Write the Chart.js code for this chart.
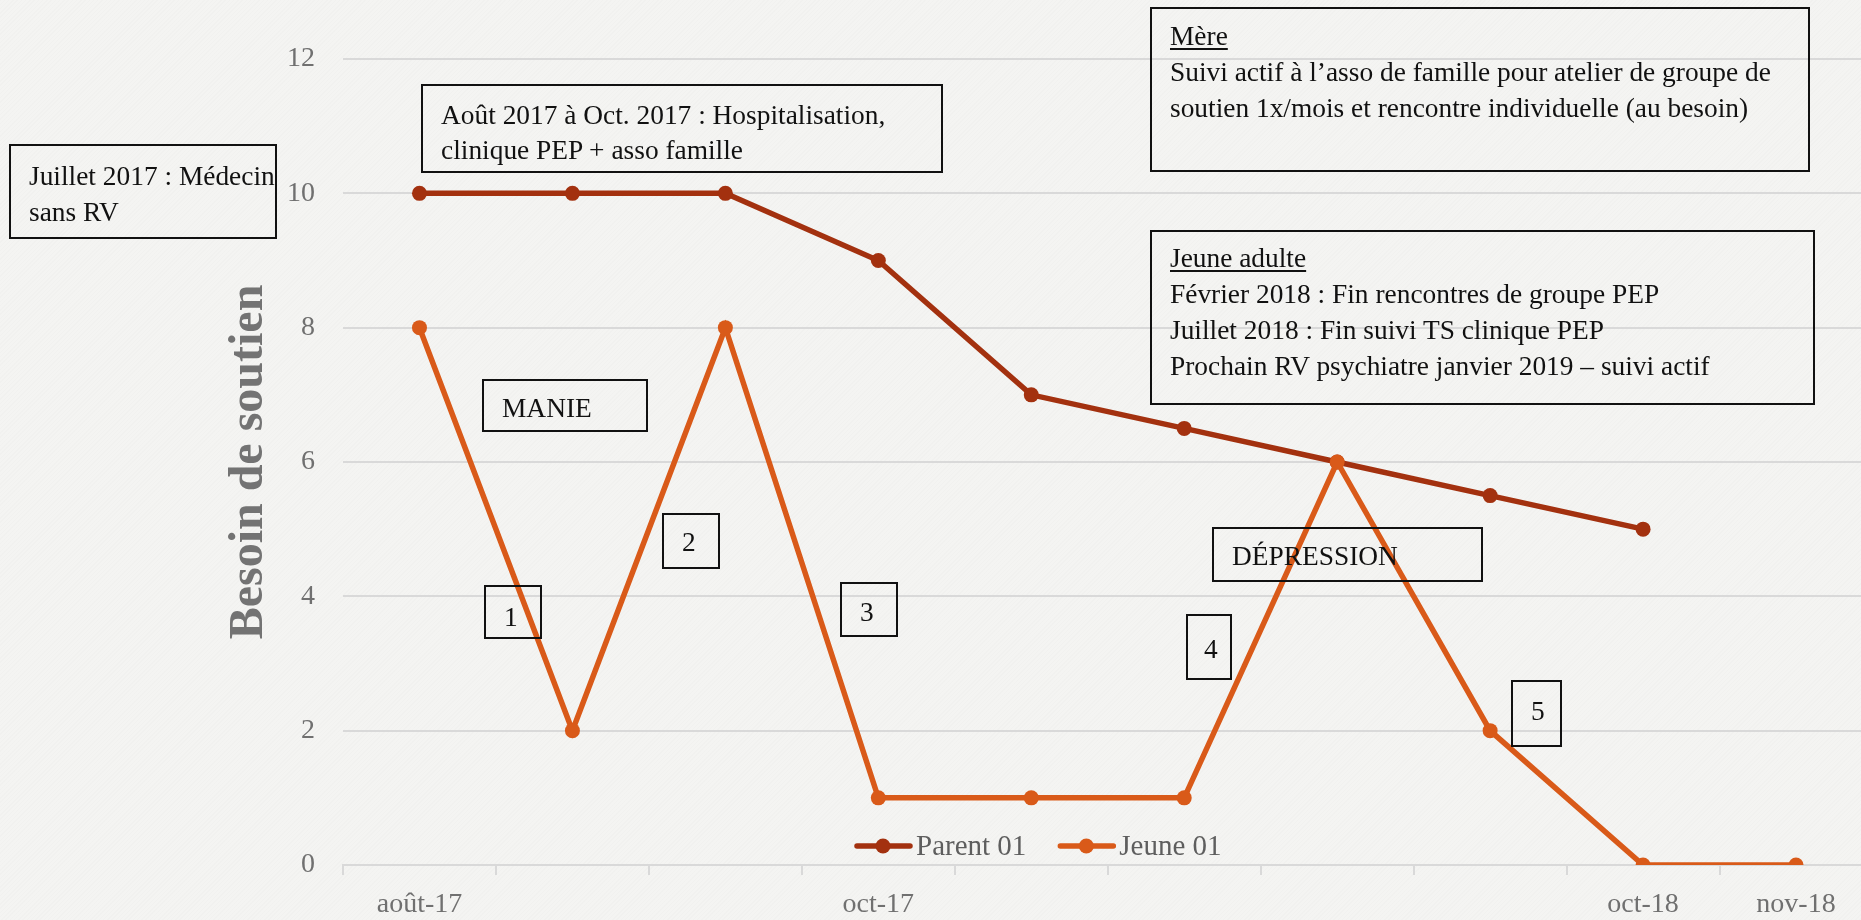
<!DOCTYPE html>
<html lang="fr">
<head>
<meta charset="UTF-8" />
<title>Besoin de soutien</title>
<script src="https://cdn.jsdelivr.net/npm/chart.js"></script>
<style>
    html, body {
        margin: 0;
        padding: 0;
        overflow: hidden;
        width: 1861px;
        height: 920px;
    }

    body {
        background-color: #f4f4f2;
        background-image: repeating-linear-gradient(135deg, rgba(0,0,0,0.012) 0px, rgba(0,0,0,0.012) 1px, transparent 1px, transparent 3px);
        font-family: "Liberation Serif", serif;
    }

    #wrap {
        position: relative;
        width: 1880px;
        height: 920px;
    }

    canvas {
        position: absolute;
        left: 0;
        top: 0;
    }

    .note {
        position: absolute;
        box-sizing: border-box;
        border: 2px solid #111;
        padding-left: 18px;
        font-size: 27.4px;
        line-height: 36px;
        color: #111;
        white-space: nowrap;
    }

    .note u {
        text-decoration-thickness: 1.5px;
        text-underline-offset: 3px;
    }
</style>
</head>
<body>
<div id="wrap">
    <canvas id="chart" width="1880" height="920"></canvas>

    <div class="note" style="left:9px;top:144px;width:268px;height:95px;padding-top:12px;">Juillet 2017 : Médecin<br>sans RV</div>
    <div class="note" style="left:421px;top:84px;width:522px;height:89px;padding-top:12px;line-height:35px;">Août 2017 à Oct. 2017 : Hospitalisation,<br>clinique PEP + asso famille</div>
    <div class="note" style="left:1150px;top:7px;width:660px;height:165px;padding-top:9px;"><u>Mère</u><br>Suivi actif à l’asso de famille pour atelier de groupe de<br>soutien 1x/mois et rencontre individuelle (au besoin)</div>
    <div class="note" style="left:1150px;top:230px;width:665px;height:175px;padding-top:8px;"><u>Jeune adulte</u><br>Février 2018 : Fin rencontres de groupe PEP<br>Juillet 2018 : Fin suivi TS clinique PEP<br>Prochain RV psychiatre janvier 2019 – suivi actif</div>
    <div class="note" style="left:482px;top:379px;width:166px;height:53px;padding-top:9px;">MANIE</div>
    <div class="note" style="left:484px;top:585px;width:58px;height:54px;padding-top:12px;">1</div>
    <div class="note" style="left:662px;top:513px;width:58px;height:56px;padding-top:9px;">2</div>
    <div class="note" style="left:840px;top:582px;width:58px;height:55px;padding-top:10px;">3</div>
    <div class="note" style="left:1212px;top:527px;width:271px;height:55px;padding-top:9px;">DÉPRESSION</div>
    <div class="note" style="left:1186px;top:614px;width:46px;height:66px;padding-top:15px;padding-left:16px;">4</div>
    <div class="note" style="left:1511px;top:680px;width:51px;height:67px;padding-top:11px;padding-left:18px;">5</div>
</div>

<script>
    // categories (only some month labels are shown on the axis)
    const months = ["août-17", "", "", "oct-17", "", "", "", "", "oct-18", "nov-18"];

    const parent01 = [10, 10, 10, 9, 7, 6.5, 6, 5.5, 5, null];
    const jeune01 = [8, 2, 8, 1, 1, 1, 6, 2, 0, 0];

    const yTicks = [0, 2, 4, 6, 8, 10, 12];

    const parentColor = "#a3310f";
    const jeuneColor = "#d95a19";
    const gridColor = "#d9d9d9";
    const tickColor = "#707070";

    // legend sits inside the plot, just above the x axis
    const insideLegend = {
        id: "insideLegend",
        afterDraw(chart, args, opts) {
            const ctx = chart.ctx;
            const area = chart.chartArea;
            const y = area.bottom - 19;
            let x = area.left + opts.offsetX;
            ctx.save();
            ctx.font = "29px 'Liberation Serif'";
            ctx.textBaseline = "middle";
            ctx.textAlign = "left";
            chart.data.datasets.forEach(ds => {
                ctx.strokeStyle = ds.borderColor;
                ctx.fillStyle = ds.borderColor;
                ctx.lineWidth = 5.5;
                ctx.lineCap = "round";
                ctx.beginPath();
                ctx.moveTo(x + 2, y);
                ctx.lineTo(x + 55, y);
                ctx.stroke();
                ctx.beginPath();
                ctx.arc(x + 28, y, 7.5, 0, Math.PI * 2);
                ctx.fill();
                ctx.fillStyle = "#5e5e5e";
                ctx.fillText(ds.label, x + 61, y + 1);
                x += 61 + ctx.measureText(ds.label).width + 32;
            });
            ctx.restore();
        }
    };

    new Chart(document.getElementById("chart"), {
        type: "line",
        data: {
            labels: months,
            datasets: [
                {
                    label: "Parent 01",
                    data: parent01,
                    borderColor: parentColor,
                    backgroundColor: parentColor,
                    borderWidth: 5.5,
                    pointRadius: 7.5,
                    pointBorderWidth: 0,
                    order: 1
                },
                {
                    label: "Jeune 01",
                    data: jeune01,
                    borderColor: jeuneColor,
                    backgroundColor: jeuneColor,
                    borderWidth: 5.5,
                    pointRadius: 7.5,
                    pointBorderWidth: 0,
                    order: 0
                }
            ]
        },
        options: {
            responsive: false,
            animation: false,
            layout: {
                padding: { left: 218, top: 59, right: 6, bottom: 0 }
            },
            scales: {
                x: {
                    offset: true,
                    afterFit: s => { s.height = 55; },
                    grid: {
                        offset: true,
                        drawOnChartArea: false,
                        drawTicks: true,
                        tickLength: 10,
                        color: gridColor,
                        lineWidth: 2
                    },
                    border: { color: gridColor, width: 2 },
                    ticks: {
                        autoSkip: false,
                        maxRotation: 0,
                        padding: 13,
                        color: tickColor,
                        font: { family: "'Liberation Serif'", size: 28 }
                    }
                },
                y: {
                    min: 0,
                    max: 12,
                    afterFit: s => { s.width = 343 - 218; },
                    afterBuildTicks: s => { s.ticks = yTicks.map(v => ({ value: v })); },
                    grid: { color: gridColor, lineWidth: 2, drawTicks: false },
                    border: { display: false },
                    ticks: {
                        padding: 28,
                        color: tickColor,
                        font: { family: "'Liberation Serif'", size: 28 }
                    },
                    title: {
                        display: true,
                        text: "Besoin de soutien",
                        color: "#737373",
                        padding: { top: 3, bottom: 0 },
                        font: { family: "'Liberation Serif'", size: 48, weight: "bold" }
                    }
                }
            },
            plugins: {
                legend: { display: false },
                tooltip: { enabled: false },
                insideLegend: { offsetX: 512 }
            }
        },
        plugins: [insideLegend]
    });
</script>
</body>
</html>
